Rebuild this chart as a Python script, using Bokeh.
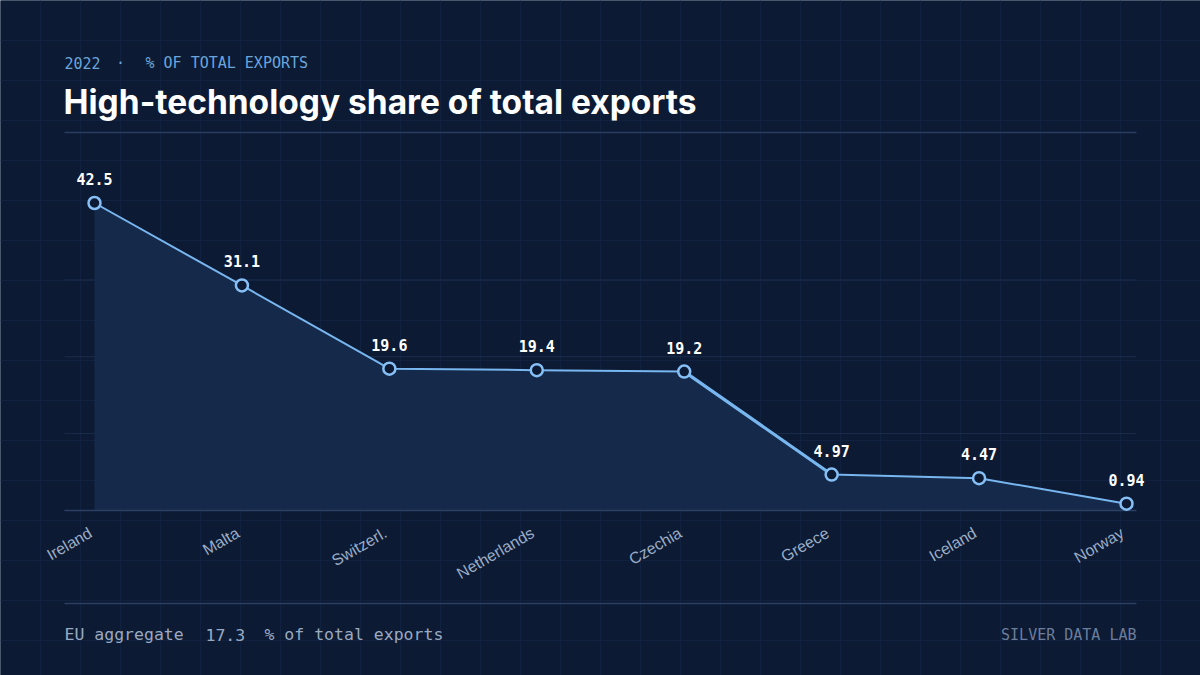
import math
from bokeh.plotting import figure
from bokeh.models import Range1d
from bokeh.core.properties import value
from bokeh.embed import file_html
from bokeh.resources import INLINE

# ---------------- data ----------------
countries = ["Ireland", "Malta", "Switzerl.", "Netherlands", "Czechia", "Greece", "Iceland", "Norway"]
shares = [42.5, 31.1, 19.6, 19.4, 19.2, 4.97, 4.47, 0.94]
eu_aggregate = 17.3
year = "2022"
unit_upper = "% OF TOTAL EXPORTS"
unit_lower = "% of total exports"
title_text = "High-technology share of total exports"
brand_text = "SILVER DATA LAB"

# ---------------- style ----------------
BG = "#0c1a33"
BG_GRID = "#112240"
CHART_GRID = "#1b2d4c"
AXIS = "#2b4164"
RULE = "#283d60"
AREA = "#152a4a"
LINE = "#78b6f0"
MARK = "#86c0f6"
SUB = "#6aa5dc"
CAT = "#9badc6"
FOOT = "#9aaac2"
BRAND = "#6c7e9b"

MONO = value("DejaVu Sans Mono")

W, H = 1200, 675
PLOT_L, PLOT_R = 64, 1136
X_FIRST, X_LAST = 94, 1126
Y_BASE, Y_MAXPT = 510, 202.5

n = len(countries)
idx = list(range(n))
px_per_x = (X_LAST - X_FIRST) / (n - 1)
px_per_y = (Y_BASE - Y_MAXPT) / max(shares)


def X(px):
    return (px - X_FIRST) / px_per_x


def Y(py):
    return (Y_BASE - py) / px_per_y


p = figure(width=W, height=H,
           x_range=Range1d(X(0), X(W)), y_range=Range1d(Y(H), Y(0)),
           x_axis_type=None, y_axis_type=None,
           toolbar_location=None, output_backend="svg",
           min_border=0, title=None,
           background_fill_color=BG, border_fill_color=BG,
           outline_line_color=None)

# background 40px grid
gx = list(range(0, W + 1, 40))
gy = list(range(0, H + 1, 40))
p.segment(x0=[X(v) for v in gx], y0=[Y(0)] * len(gx), x1=[X(v) for v in gx], y1=[Y(H)] * len(gx),
          line_color=BG_GRID, line_width=1)
p.segment(x0=[X(0)] * len(gy), y0=[Y(v) for v in gy], x1=[X(W)] * len(gy), y1=[Y(v) for v in gy],
          line_color=BG_GRID, line_width=1)

# chart grid (quarters of max)
levels = [max(shares) * k / 4 for k in (1, 2, 3)]
p.segment(x0=[X(PLOT_L)] * 3, y0=levels, x1=[X(PLOT_R)] * 3, y1=levels,
          line_color=CHART_GRID, line_width=1)

# area
p.varea(x=idx, y1=[0] * n, y2=shares, fill_color=AREA)

# baseline
p.segment(x0=[X(PLOT_L)], y0=[0], x1=[X(PLOT_R)], y1=[0], line_color=AXIS, line_width=1.6)

# line
p.line(idx, shares, line_color=LINE, line_width=2)
drops = [shares[i] - shares[i + 1] for i in range(n - 1)]
k = drops.index(max(drops))
p.segment(x0=[k], y0=[shares[k]], x1=[k + 1], y1=[shares[k + 1]], line_color=LINE, line_width=3.2)

# markers
p.scatter(idx, shares, marker="circle", size=12, fill_color=BG, line_color=MARK, line_width=2.5)

# data labels
labels = [f"{v:.3g}" for v in shares]
p.text(idx, shares, text=labels, text_align="center", text_baseline="alphabetic", y_offset=-24,
       text_font=MONO, text_font_style="bold", text_font_size=value("15px"), text_color="#ffffff")

# category labels
p.text(idx, [Y(531)] * n, text=countries, angle=math.pi / 6, text_align="right", text_baseline="middle",
       x_offset=-4,
       text_font=value("Liberation Sans"), text_font_size=value("16px"), text_color=CAT)

# header
p.text([X(64)], [Y(62.5)], text=[year], text_align="left", text_baseline="alphabetic",
       text_font=MONO, text_font_size=value("15px"), text_color=SUB)
p.text([X(120)], [Y(62.5)], text=["·"], text_align="center", text_baseline="alphabetic",
       text_font=MONO, text_font_size=value("15px"), text_color=SUB)
p.text([X(145)], [Y(62.5)], text=[unit_upper], text_align="left", text_baseline="alphabetic",
       text_font=MONO, text_font_size=value("15px"), text_color=SUB)
p.text([X(63)], [Y(101)], text=[title_text], text_align="left", text_baseline="alphabetic",
       text_font=value("Inter"), text_font_style="bold", text_font_size=value("33.5px"), text_color="#ffffff")

# rules
p.segment(x0=[X(PLOT_L), X(PLOT_L)], y0=[Y(132), Y(603)], x1=[X(PLOT_R), X(PLOT_R)], y1=[Y(132), Y(603)],
          line_color=RULE, line_width=1.5)

# footer
p.text([X(64)], [Y(634)], text=["EU aggregate"], text_align="left", text_baseline="alphabetic",
       text_font=MONO, text_font_size=value("16.5px"), text_color=FOOT)
p.text([X(205)], [Y(634)], text=[f"{eu_aggregate}"], text_align="left", text_baseline="alphabetic",
       text_font=MONO, text_font_size=value("16.5px"), text_color=FOOT)
p.text([X(264)], [Y(634)], text=[unit_lower], text_align="left", text_baseline="alphabetic",
       text_font=MONO, text_font_size=value("16.5px"), text_color=FOOT)
p.text([X(1136)], [Y(634)], text=[brand_text], text_align="right", text_baseline="alphabetic",
       text_font=MONO, text_font_size=value("15px"), text_color=BRAND)

open("out.html", "w").write(file_html(p, INLINE))
